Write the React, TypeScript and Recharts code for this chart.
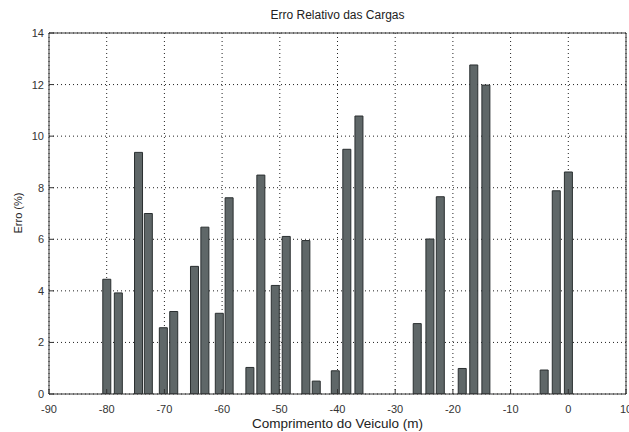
import React from 'react';
import { BarChart, Bar, XAxis, YAxis, CartesianGrid } from 'recharts';

// Vehicle position (m) of each bar
const positions = [
  -80, -78, -74.5, -72.8, -70.2, -68.4, -64.8, -63, -60.5, -58.8,
  -55.2, -53.3, -50.8, -48.9, -45.5, -43.7, -40.4, -38.4, -36.3,
  -26.2, -24, -22.2, -18.4, -16.4, -14.3, -4.2, -2.1, 0,
];
// Relative error (%) of each bar
const errors = [
  4.45, 3.92, 9.37, 7.0, 2.57, 3.2, 4.95, 6.47, 3.13, 7.61,
  1.03, 8.49, 4.21, 6.11, 5.95, 0.5, 0.9, 9.49, 10.78,
  2.73, 6.01, 7.65, 0.99, 12.76, 11.98, 0.93, 7.88, 8.61,
];
const xTicks = [-90, -80, -70, -60, -50, -40, -30, -20, -10, 0, 10];
const yTicks = [0, 2, 4, 6, 8, 10, 12, 14];

const title = 'Erro Relativo das Cargas';
const xLabel = 'Comprimento do Veiculo (m)';
const yLabel = 'Erro (%)';

const data = positions.map((x, i) => ({ x, erro: errors[i] }));

const FONT = '"Liberation Sans", Arial, Helvetica, sans-serif';
const AXIS = '#333';

const XTick = (props: any) => {
  const { x, y, payload } = props;
  const axisY = y - 8;
  return (
    <g>
      <line x1={x} x2={x} y1={axisY} y2={axisY - 5} stroke={AXIS} />
      <text x={x} y={y} dy={11} textAnchor="middle" fontSize={11} fill="#333" fontFamily={FONT}>
        {payload.value}
      </text>
    </g>
  );
};

const YTick = (props: any) => {
  const { x, y, payload } = props;
  const axisX = x + 5;
  return (
    <g>
      <line x1={axisX} x2={axisX + 5} y1={y} y2={y} stroke={AXIS} />
      <text x={x} y={y} dy={4} textAnchor="end" fontSize={11} fill="#333" fontFamily={FONT}>
        {payload.value}
      </text>
    </g>
  );
};

export default function App() {
  return (
    <div style={{ position: 'fixed', left: 0, top: 0, width: 629, height: 432, background: '#fff' }}>
      <div
        style={{
          position: 'absolute', left: 49, width: 577, top: 8, textAlign: 'center',
          fontFamily: FONT, fontSize: 12, color: '#222', lineHeight: '14px',
        }}
      >
        {title}
      </div>
      <div
        style={{
          position: 'absolute', left: 49, width: 577, top: 417, textAlign: 'center',
          fontFamily: FONT, fontSize: 13.5, color: '#222', lineHeight: '14px',
        }}
      >
        {xLabel}
      </div>
      <div
        style={{
          position: 'absolute', left: 18, top: 213, transform: 'translate(-50%, -50%) rotate(-90deg)',
          fontFamily: FONT, fontSize: 11, color: '#222', whiteSpace: 'nowrap', lineHeight: '13px',
        }}
      >
        {yLabel}
      </div>
      <BarChart width={629} height={432} data={data} margin={{ top: 33, right: 3, bottom: 0, left: 0 }}>
        <CartesianGrid stroke="#222" strokeDasharray="1 3" />
        <XAxis
          dataKey="x"
          type="number"
          domain={[-90, 10]}
          ticks={xTicks}
          allowDataOverflow
          height={38}
          tickLine={false}
          tickSize={0}
          tickMargin={8}
          tick={<XTick />}
          axisLine={{ stroke: AXIS }}
          interval={0}
        />
        <XAxis
          xAxisId="top"
          orientation="top"
          mirror
          type="number"
          domain={[-90, 10]}
          ticks={xTicks}
          allowDataOverflow
          tick={false}
          tickSize={5}
          tickLine={{ stroke: AXIS }}
          axisLine={{ stroke: AXIS }}
          interval={0}
        />
        <YAxis
          type="number"
          domain={[0, 14]}
          ticks={yTicks}
          allowDataOverflow
          width={49}
          tickLine={false}
          tickSize={0}
          tickMargin={5}
          tick={<YTick />}
          axisLine={{ stroke: AXIS }}
          interval={0}
        />
        <YAxis
          yAxisId="right"
          orientation="right"
          mirror
          type="number"
          domain={[0, 14]}
          ticks={yTicks}
          allowDataOverflow
          tick={false}
          tickSize={5}
          tickLine={{ stroke: AXIS }}
          axisLine={{ stroke: AXIS }}
          interval={0}
        />
        <Bar dataKey="erro" barSize={8} fill="#5f6768" stroke="#2a2f30" strokeWidth={1} isAnimationActive={false} />
      </BarChart>
    </div>
  );
}
